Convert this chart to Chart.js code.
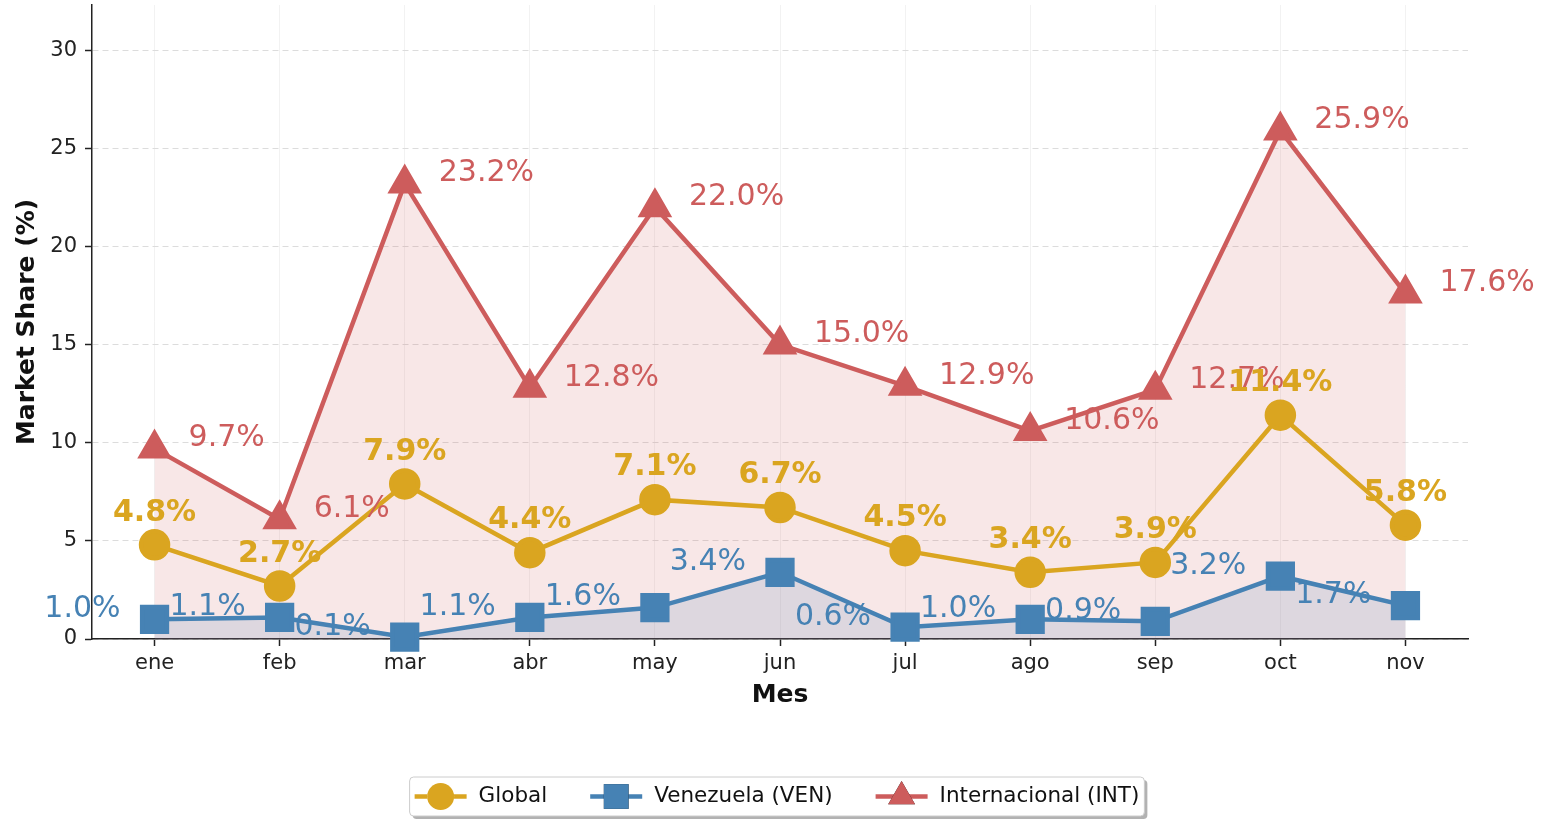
<!DOCTYPE html>
<html>
<head>
<meta charset="utf-8">
<script src="https://cdn.jsdelivr.net/npm/chart.js@4.4.0/dist/chart.umd.min.js"></script>
<style>
  html, body { margin: 0; padding: 0; background: #fff; }
  #wrap { width: 1547px; height: 820px; position: relative; }
</style>
</head>
<body>
<div id="wrap"><canvas id="chart"></canvas></div>
<script>
// datos
const meses = ['ene', 'feb', 'mar', 'abr', 'may', 'jun', 'jul', 'ago', 'sep', 'oct', 'nov'];
const globalShare = [4.8, 2.7, 7.9, 4.4, 7.1, 6.7, 4.5, 3.4, 3.9, 11.4, 5.8];
const venShare = [1.0, 1.1, 0.1, 1.1, 1.6, 3.4, 0.6, 1.0, 0.9, 3.2, 1.7];
const intShare = [9.7, 6.1, 23.2, 12.8, 22.0, 15.0, 12.9, 10.6, 12.7, 25.9, 17.6];
const yTicks = [0, 5, 10, 15, 20, 25, 30];

const FONT = "'DejaVu Sans', sans-serif";
const GOLD = '#DAA520';
const BLUE = '#4682B4';
const RED = '#CD5C5C';

// etiquetas de valor junto a cada punto
const valueLabels = {
  id: 'valueLabels',
  afterDatasetsDraw(chart) {
    const ctx = chart.ctx;
    const drawOrder = [2, 1, 0];
    ctx.save();
    drawOrder.forEach(i => {
      const ds = chart.data.datasets[i];
      const meta = chart.getDatasetMeta(i);
      const lab = ds.valueLabel;
      ctx.font = (lab.bold ? 'bold ' : '') + lab.size + 'px ' + FONT;
      ctx.fillStyle = ds.borderColor;
      ctx.textAlign = lab.align;
      ctx.textBaseline = 'middle';
      meta.data.forEach((pt, j) => {
        ctx.fillText(ds.data[j].toFixed(1) + '%', pt.x + lab.dx, pt.y + lab.dy);
      });
    });
    ctx.restore();
  }
};

// leyenda estilo matplotlib, abajo al centro
const bottomLegend = {
  id: 'bottomLegend',
  afterDraw(chart) {
    const ctx = chart.ctx;
    const area = chart.chartArea;
    const items = chart.data.datasets;
    ctx.save();
    ctx.font = '21.5px ' + FONT;
    const lineLen = 52, gapText = 12, gapItem = 43, padX = 5;
    const widths = items.map(ds => lineLen + gapText + ctx.measureText(ds.label).width);
    const total = widths.reduce((a, b) => a + b, 0) + gapItem * (items.length - 1) + padX * 2;
    const cx = (area.left + area.right) / 2 - 3;
    const x0 = cx - total / 2;
    const y0 = 777, h = 39;
    // sombra
    ctx.fillStyle = 'rgba(0,0,0,0.3)';
    ctx.beginPath();
    ctx.roundRect(x0 + 3, y0 + 3, total, h, 4);
    ctx.fill();
    ctx.fillStyle = '#fff';
    ctx.strokeStyle = '#cccccc';
    ctx.lineWidth = 1;
    ctx.beginPath();
    ctx.roundRect(x0, y0, total, h, 4);
    ctx.fill();
    ctx.stroke();

    let x = x0 + padX;
    const cy = y0 + h / 2;
    items.forEach((ds, i) => {
      ctx.strokeStyle = ds.borderColor;
      ctx.lineWidth = 4.5;
      ctx.beginPath();
      ctx.moveTo(x, cy);
      ctx.lineTo(x + lineLen, cy);
      ctx.stroke();
      Chart.helpers.drawPoint(ctx, {
        pointStyle: ds.pointStyle,
        radius: ds.pointRadius,
        borderWidth: 0
      }, x + lineLen / 2, cy);
      ctx.fillStyle = ds.borderColor;
      ctx.fill();
      ctx.fillStyle = '#111';
      ctx.textAlign = 'left';
      ctx.textBaseline = 'middle';
      ctx.fillText(ds.label, x + lineLen + gapText, cy);
      x += widths[i] + gapItem;
    });
    ctx.restore();
  }
};

const ctx = document.getElementById('chart').getContext('2d');
new Chart(ctx, {
  type: 'line',
  data: {
    labels: meses,
    datasets: [
      {
        label: 'Global',
        data: globalShare,
        borderColor: GOLD,
        backgroundColor: GOLD,
        pointBackgroundColor: GOLD,
        pointBorderColor: GOLD,
        borderWidth: 4.5,
        pointStyle: 'circle',
        pointRadius: 13.5,
        fill: false,
        clip: false,
        valueLabel: { bold: true, size: 30, align: 'center', dx: 0, dy: -32 }
      },
      {
        label: 'Venezuela (VEN)',
        data: venShare,
        borderColor: BLUE,
        backgroundColor: 'rgba(70,130,180,0.15)',
        pointBackgroundColor: BLUE,
        pointBorderColor: BLUE,
        borderWidth: 4.5,
        pointStyle: 'rect',
        pointRadius: 17.5,
        fill: 'origin',
        clip: false,
        valueLabel: { bold: false, size: 30, align: 'right', dx: -34, dy: -10 }
      },
      {
        label: 'Internacional (INT)',
        data: intShare,
        borderColor: RED,
        backgroundColor: 'rgba(205,92,92,0.15)',
        pointBackgroundColor: RED,
        pointBorderColor: RED,
        borderWidth: 4.5,
        pointStyle: 'triangle',
        pointRadius: 15.5,
        fill: 'origin',
        clip: false,
        valueLabel: { bold: false, size: 30, align: 'left', dx: 34, dy: -10 }
      }
    ]
  },
  options: {
    responsive: true,
    maintainAspectRatio: false,
    animation: false,
    events: [],
    layout: { autoPadding: false, padding: { left: 8, top: 5, right: 79, bottom: 106 } },
    plugins: {
      legend: { display: false },
      tooltip: { enabled: false }
    },
    scales: {
      x: {
        offset: true,
        grid: {
          display: true,
          offset: false,
          color: 'rgba(0,0,0,0.05)',
          tickColor: '#222',
          tickLength: 7,
          tickWidth: 1.5
        },
        border: { display: true, color: '#222', width: 1.5 },
        ticks: { color: '#222', font: { family: FONT, size: 21 }, padding: 5 },
        title: {
          display: true,
          text: 'Mes',
          color: '#111',
          font: { family: FONT, size: 25, weight: 'bold' },
          padding: { top: 4, bottom: 4 }
        },
        afterFit(scale) {
          scale.height = 75;
        }
      },
      y: {
        min: 0,
        max: 32.3,
        afterBuildTicks(scale) {
          scale.ticks = yTicks.map(v => ({ value: v }));
        },
        grid: {
          color: '#dcdcdc',
          lineWidth: 1,
          tickColor: '#222',
          tickLength: 7,
          tickWidth: 1.5
        },
        border: { display: true, color: '#222', width: 1.5, dash: [6, 4] },
        ticks: { color: '#222', font: { family: FONT, size: 21 }, padding: 8 },
        title: {
          display: true,
          text: 'Market Share (%)',
          color: '#111',
          font: { family: FONT, size: 25, weight: 'bold' },
          padding: { top: 4, bottom: 4 }
        },
        afterFit(scale) {
          // el eje empieza justo arriba, como en el original
          scale.width = 84;
          scale.paddingTop = 0;
        }
      }
    }
  },
  plugins: [valueLabels, bottomLegend]
});
</script>
</body>
</html>
